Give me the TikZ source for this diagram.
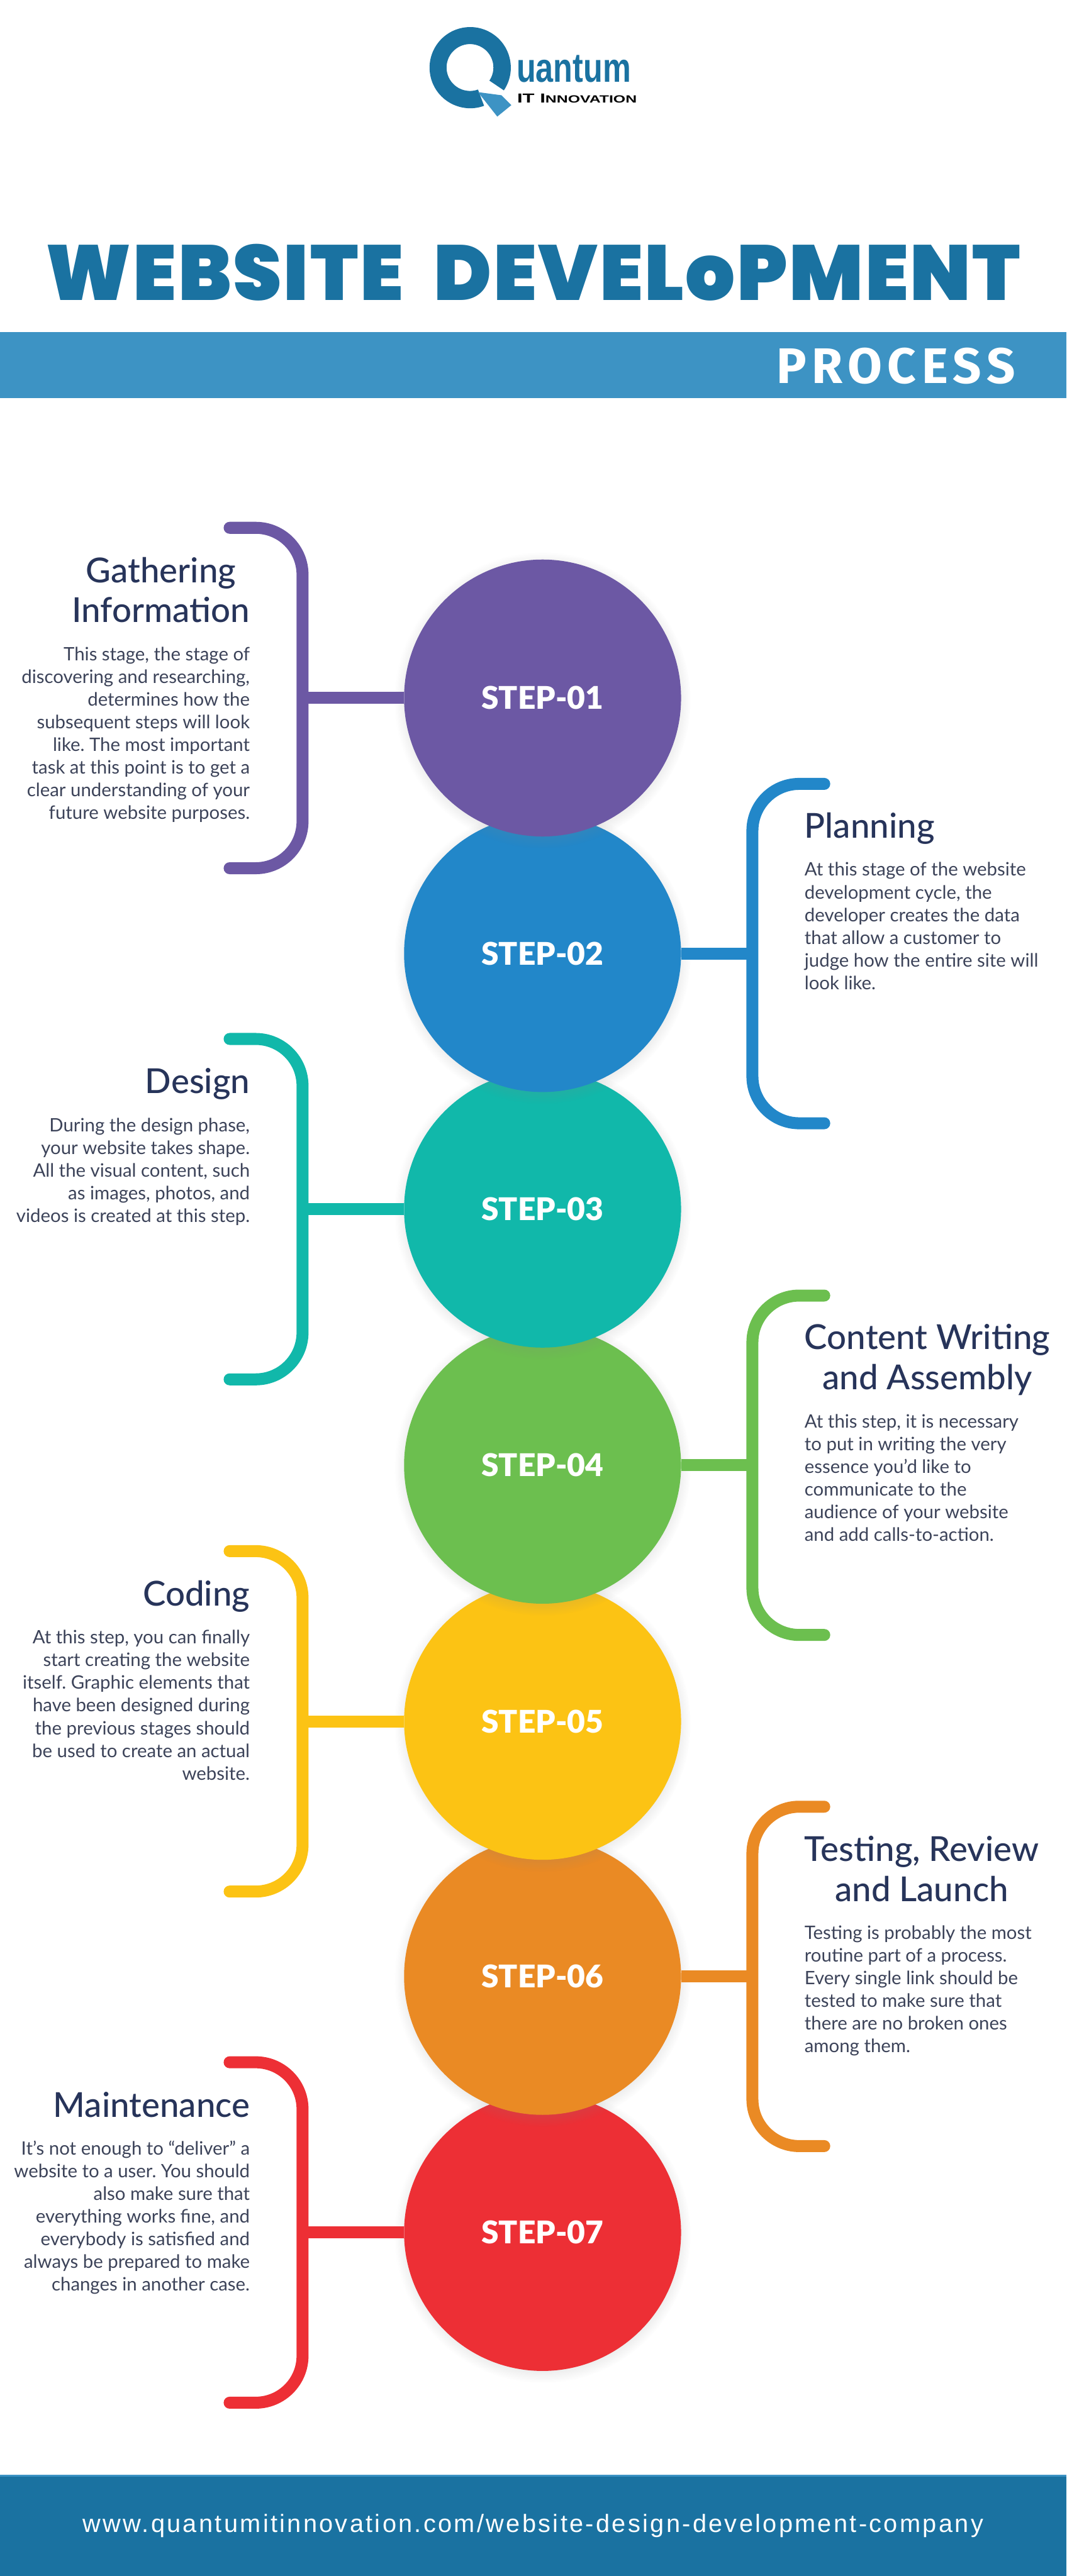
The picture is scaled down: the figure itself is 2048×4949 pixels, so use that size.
\documentclass[tikz,border=0pt]{standalone}
\usepackage{fontspec}
\usetikzlibrary{shadows}
\setmainfont{Lato}
\newfontfamily\headfont{Lato Medium}
\newfontfamily\stepfont{Lato Black}
\newfontfamily\titlefont{Poppins}[UprightFont=* Black,LetterSpace=2]
\newfontfamily\processfont{Fira Sans}[LetterSpace=11]
\newfontfamily\linkfont{Liberation Sans}[LetterSpace=8.4]
\newfontfamily\logofont{Liberation Sans}
\definecolor{quantumdark}{HTML}{1A72A1}
\definecolor{quantumlight}{HTML}{3D93C4}
\definecolor{headink}{HTML}{27345A}
\definecolor{bodyink}{HTML}{3C4359}
\definecolor{stepone}{HTML}{6C58A4}
\definecolor{steptwo}{HTML}{2287C9}
\definecolor{stepthree}{HTML}{11B8AA}
\definecolor{stepfour}{HTML}{6CBF4F}
\definecolor{stepfive}{HTML}{FCC314}
\definecolor{stepsix}{HTML}{EA8A24}
\definecolor{stepseven}{HTML}{ED2F35}
\tikzset{
  stepcircle/.style={circle,minimum size=532pt,inner sep=0pt,text=white,
    font=\stepfont\fontsize{60}{70}\selectfont,
    circular drop shadow={shadow xshift=0pt,shadow yshift=-4pt,shadow scale=1.07,opacity=.25}},
  brace/.style={line width=23pt,line cap=round,rounded corners=90pt},
  leftside/.style={inner sep=0pt,text width=480pt,align=flush right},
  rightside/.style={inner sep=0pt,text width=480pt,align=flush left},
  headtext/.style={text=headink,font=\headfont\fontsize{66}{77}\selectfont},
  bodytext/.style={text=bodyink,font=\frenchspacing\fontsize{35.5}{43.6}\selectfont}
}
\begin{document}
\begin{tikzpicture}[x=1pt,y=-1pt]
    \useasboundingbox (0,0) rectangle (2048,4949);

    % logo
    \fill [quantumdark] (903,130) ++(34:78) arc (34:-290:78)
        -- (918,172) arc (-290:34:45) -- cycle;
    \fill [quantumlight] (918,177) -- (963,183) -- (982,202) -- (955,224) -- cycle;
    \node [anchor=base west,inner sep=0pt,text=quantumdark,xscale=.77,
        font=\logofont\fontsize{79}{79}\selectfont\bfseries] (logoname) at (992,158) {uantum};
    \node [anchor=base west,inner sep=0pt,text=black,xscale=1.5,
        font=\logofont\fontsize{25}{25}\selectfont\bfseries] (logosub) at (993,198)
        {IT I{\fontsize{20}{20}\selectfont NNOVATION}};

    % title and bars
    \node [text=quantumdark,inner sep=0pt,anchor=base,font=\titlefont\fontsize{150}{150}\selectfont]
        (title) at (1024,577) {WEBSITE\hspace{30pt} DEVELoPMENT};
    \fill [quantumlight] (0,638) rectangle (2048,765);
    \node [text=white,inner sep=0pt,anchor=base east,font=\processfont\fontsize{96}{96}\selectfont\bfseries]
        (process) at (1950,736) {PROCESS};
    \fill [quantumlight] (0,4755) rectangle (2048,4758);
    \fill [quantumdark] (0,4758) rectangle (2048,4949);
    \node [text=white,inner sep=0pt,anchor=base,font=\linkfont\fontsize{48}{48}\selectfont]
        (weblink) at (1024,4865) {www.quantumitinnovation.com/website-design-development-company};

    % circles, last one first so the upper ones lie on top
    \foreach \n/\c/\y in {7/stepseven/4289,6/stepsix/3797,5/stepfive/3307,4/stepfour/2815,
        3/stepthree/2323,2/steptwo/1832,1/stepone/1341} {
        \node [stepcircle,fill=\c] (step\n) at (1042,\y) {STEP-0\n};
    }

    % brackets
    \foreach \n/\c in {1/stepone,3/stepthree,5/stepfive,7/stepseven} {
        \coordinate (hook\n) at (step\n.center -| 581,0);
        \draw [brace,\c] (hook\n) ++(-140,-327) -- ++(140,0) -- ++(0,654) -- ++(-140,0);
        \draw [line width=23pt,\c] (step\n.west) -- (hook\n);
    }
    \foreach \n/\c in {2/steptwo,4/stepfour,6/stepsix} {
        \coordinate (hook\n) at (step\n.center -| 1445,0);
        \draw [brace,\c] (hook\n) ++(138,-326) -- ++(-138,0) -- ++(0,652) -- ++(138,0);
        \draw [line width=23pt,\c] (step\n.east) -- (hook\n);
    }

    % left texts
    \node [headtext,inner sep=0pt,align=center,anchor=north east] (head1) at (480,1070) {Gathering\\Information};
    \node [leftside,bodytext,anchor=base east] (body1) at (480,1269) {This stage, the stage of\\discovering and researching,\\determines how the\\subsequent steps will look\\like. The most important\\task at this point is to get a\\clear understanding of your\\future website purposes.};
    \node [leftside,headtext,anchor=base east] (head3) at (480,2101) {Design};
    \node [leftside,bodytext,anchor=base east] (body3) at (480,2174) {During the design phase,\\your website takes shape.\\All the visual content, such\\as images, photos, and\\videos is created at this step.};
    \node [leftside,headtext,anchor=base east] (head5) at (480,3085) {Coding};
    \node [leftside,bodytext,anchor=base east] (body5) at (480,3158) {At this step, you can finally\\start creating the website\\itself. Graphic elements that\\have been designed during\\the previous stages should\\be used to create an actual\\website.};
    \node [leftside,headtext,anchor=base east] (head7) at (480,4067) {Maintenance};
    \node [leftside,bodytext,anchor=base east] (body7) at (480,4140) {It's not enough to “deliver” a\\website to a user. You should\\also make sure that\\everything works fine, and\\everybody is satisfied and\\always be prepared to make\\changes in another case.};

    % right texts
    \node [rightside,headtext,anchor=base west] (head2) at (1545,1610) {Planning};
    \node [rightside,bodytext,anchor=base west] (body2) at (1545,1683) {At this stage of the website\\development cycle, the\\developer creates the data\\that allow a customer to\\judge how the entire site will\\look like.};
    \node [headtext,inner sep=0pt,align=center,anchor=north west] (head4) at (1545,2544) {Content Writing\\and Assembly};
    \node [rightside,bodytext,anchor=base west] (body4) at (1545,2743) {At this step, it is necessary\\to put in writing the very\\essence you'd like to\\communicate to the\\audience of your website\\and add calls-to-action.};
    \node [headtext,inner sep=0pt,align=center,anchor=north west] (head6) at (1545,3527) {Testing, Review\\and Launch};
    \node [rightside,bodytext,anchor=base west] (body6) at (1545,3725) {Testing is probably the most\\routine part of a process.\\Every single link should be\\tested to make sure that\\there are no broken ones\\among them.};
\end{tikzpicture}
\end{document}
